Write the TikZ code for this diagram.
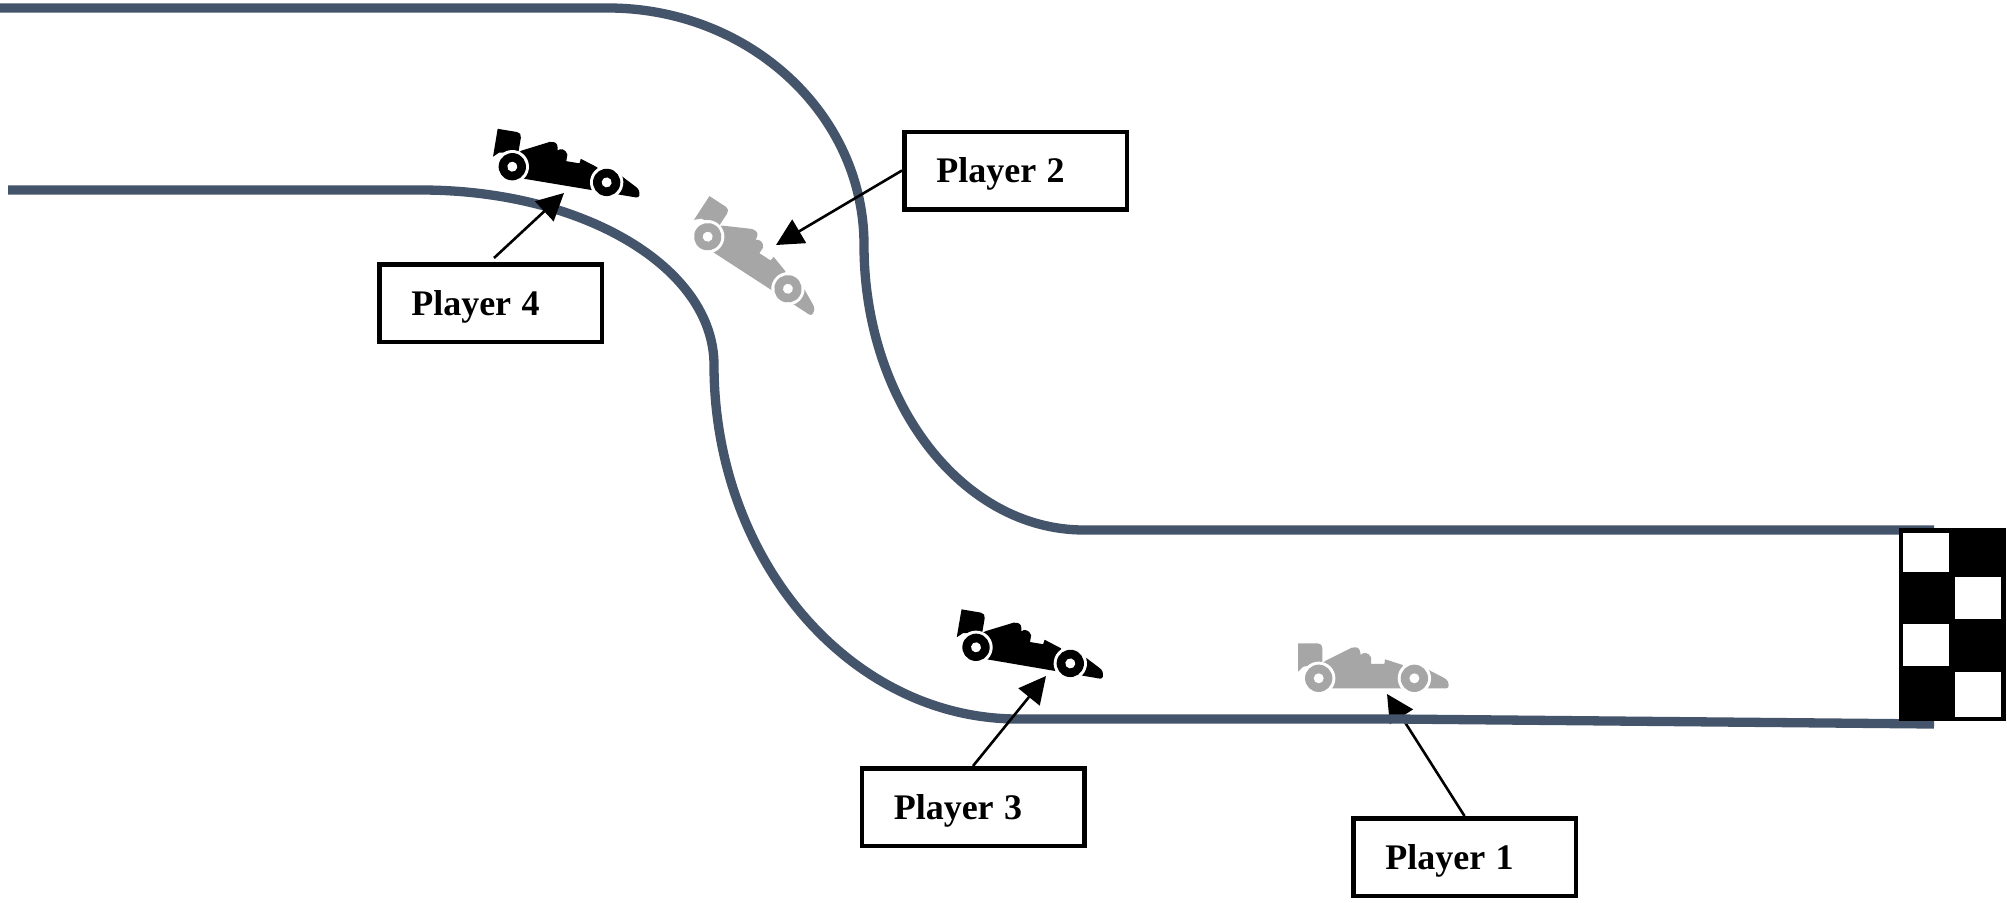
\documentclass[tikz,border=0pt]{standalone}
\usepackage{fontspec}
\setmainfont{Liberation Serif}
\usetikzlibrary{arrows.meta}
\definecolor{trackc}{HTML}{44546A}
\definecolor{carg}{HTML}{A6A6A6}
\newcommand{\tightgap}{\hspace{10.5pt}}
\tikzset{
  trackline/.style={draw=trackc,line width=9.3pt},
  playerbox/.style={draw=black,fill=white,line width=4.5pt,minimum width=222.5pt,minimum height=77.5pt,
    inner xsep=32pt,inner ysep=0pt,text width=158.5pt,align=left,text height=24pt,text depth=0pt,
    font=\bfseries\fontsize{36pt}{40pt}\selectfont},
  pointer/.style={draw=black,line width=2.6pt,-{Triangle[length=27pt,width=27pt]}},
  pics/car/.style={code={
    \begin{scope}[x=.33333pt,y=-.33333pt,shift={(-146,-175)}]
      \fill[#1] (84,70) -- (143,70) .. controls (152,70) and (157,76) .. (157,85) -- (157,130) -- (100,140) -- (84,155) -- cycle;
      \fill[#1] (167,122) -- (245,83) -- (258,82) .. controls (268,84) and (270,90) .. (272,105)
        .. controls (278,96) and (296,96) .. (303,112) -- (303,132) -- (343,132) -- (345,118)
        -- (398,135) -- (420,205) -- (150,205) -- (150,135) -- cycle;
      \fill[#1,rounded corners=2.5pt] (440,130) -- (480,152) -- (530,178) -- (536,190) -- (536,205) -- (440,205) -- cycle;
      \fill[white] (146,175) circle[radius=50];
      \fill[white] (433,175) circle[radius=50];
      \fill[#1] (146,175) circle[radius=41];
      \fill[#1] (433,175) circle[radius=41];
      \fill[white] (146,175) circle[radius=15];
      \fill[white] (433,175) circle[radius=15];
    \end{scope}
  }}
}
\begin{document}
\begin{tikzpicture}[x=1pt,y=-1pt]
\useasboundingbox (0,0) rectangle (2007,902);
\fill[white] (0,0) rectangle (2007,902);
% named points
\coordinate (tip1) at (1387,694);
\coordinate (tip2) at (776,245);
\coordinate (tip3) at (1046,676);
\coordinate (tip4) at (564,193);
\coordinate (from4) at (494,258);
% boxes
\node[playerbox] (p1) at (1464.5,857) {Player\tightgap 1};
\node[playerbox] (p2) at (1015.5,170.5) {Player\tightgap 2};
\node[playerbox] (p3) at (973,807) {Player\tightgap 3};
\node[playerbox] (p4) at (490.5,303) {Player\tightgap 4};
% pointer under the track
\draw[pointer] (p1.north) -- (tip1);
% track
\draw[trackline] (0,8) -- (608,8)
  .. controls (749,8) and (864,114) .. (864,245)
  .. controls (864,402) and (962,530) .. (1084,530) -- (1934,530);
\draw[trackline] (8,190) -- (421,190)
  .. controls (584,190) and (714,268) .. (714,365)
  .. controls (714,560) and (850,719) .. (1018,719) -- (1395,719) -- (1934,724);
% chequered flag
\fill[black] (1899,528) rectangle (2006,721);
\fill[white] (1903.3,533.3) rectangle (1948.7,572.3);
\fill[white] (1955.3,577.3) rectangle (2000.7,619.3);
\fill[white] (1903.3,624.3) rectangle (1948.7,666.3);
\fill[white] (1955.3,671.7) rectangle (2000.7,716.7);
% cars
\pic[rotate=0] at (1318.7,678.3) {car=carg};
\pic[rotate=-33] at (707.7,236.7) {car=carg};
\pic[rotate=-9.7] at (976,647.3) {car=black};
\pic[rotate=-9.45] at (512.3,166.7) {car=black};
% pointers
\draw[pointer] (p2.west) -- (tip2);
\draw[pointer] (p3.north) -- (tip3);
\draw[pointer] (from4) -- (tip4);
\end{tikzpicture}
\end{document}
